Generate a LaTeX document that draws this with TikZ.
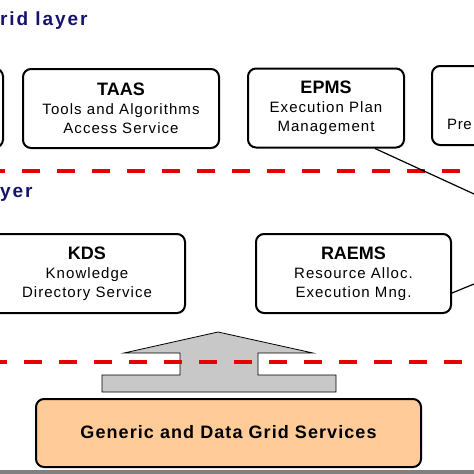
\documentclass[tikz,border=0pt]{standalone}
\usepackage{fontspec}
\setmainfont{Liberation Sans}
\usetikzlibrary{calc}
\definecolor{layerblue}{RGB}{20,20,110}
\definecolor{cutred}{RGB}{230,0,0}
\definecolor{svcpeach}{RGB}{255,204,153}
\definecolor{arrgray}{RGB}{200,200,200}
\definecolor{bargray}{RGB}{128,128,128}
\newcommand{\ttlfont}{\fontsize{18}{20}\selectfont\bfseries\addfontfeature{LetterSpace=0}}
\newcommand{\bodyfont}{\fontsize{15}{19}\selectfont\addfontfeature{LetterSpace=7}}
\tikzset{
  svc/.style={draw, line width=2pt, rounded corners=8pt, align=center, inner sep=0pt,
    minimum width=196pt, minimum height=79pt, font=\bodyfont},
  lyr/.style={font=\fontsize{19}{22}\selectfont\bfseries\addfontfeature{LetterSpace=10},
    text=layerblue, anchor=west, inner sep=0pt},
  cut/.style={cutred, line width=4.5pt, dash pattern=on 18pt off 17pt},
  lnk/.style={line width=1.2pt},
  upar/.style={fill=arrgray, draw, line width=0.8pt},
}

\begin{document}
\begin{tikzpicture}[x=1pt, y=-1pt]
\useasboundingbox (0,0) rectangle (474,474);
\clip (0,0) rectangle (474,474);
% layer titles
\node[lyr] (gridttl) at (0,21) {rid layer};
\node[lyr] (lowttl) at (0,194) {yer};
% upper layer services
\node[svc, minimum width=130pt] (lbox) at (-62,108) {};
\node[svc] (taas) at (121,108.5) {{\ttlfont TAAS}\\Tools and Algorithms\\Access Service};
\node[svc, minimum width=156pt] (epms) at (326,108) {{\ttlfont EPMS}\\Execution Plan\\Management};
\node[svc, minimum width=130pt] (rbox) at (497,105.5) {};
\node[anchor=west, inner sep=0pt, font=\fontsize{15}{19}\selectfont\addfontfeature{LetterSpace=4}] (pre) at (447,124) {Pre};
% lower layer services
\node[svc] (kds) at (87,273.5) {{\ttlfont KDS}\\Knowledge\\Directory Service};
\node[svc, minimum width=195pt] (raems) at (353.5,273.5) {{\ttlfont RAEMS}\\Resource Alloc.\\Execution Mng.};
% grid services + arrow
\draw[upar] (124,353) -- (218,332) -- (313,353) -- (258,353) -- (258,375) -- (336,375)
  -- (336,392) -- (102,392) -- (102,375) -- (180,375) -- (180,353) -- cycle;
\node[svc, fill=svcpeach, minimum width=385pt, minimum height=68pt] (gds) at (228.5,433)
  {\raisebox{3pt}{\fontsize{18}{20}\selectfont\bfseries\addfontfeature{LetterSpace=6}Generic and Data Grid Services}};
\fill[bargray] (0,470) rectangle (474,474);
% layer borders
\draw[cut] (-13,171) -- (474,171);
\draw[cut] (-11,362) -- (474,362);
% links to the right
\coordinate (outA) at (474,194);
\coordinate (outB) at (474,284);
\draw[lnk] ($(epms.south east)+(-30,0)$) -- (outA);
\draw[lnk] ($(raems.east)+(0,19.5)$) -- (outB);
\end{tikzpicture}
\end{document}
